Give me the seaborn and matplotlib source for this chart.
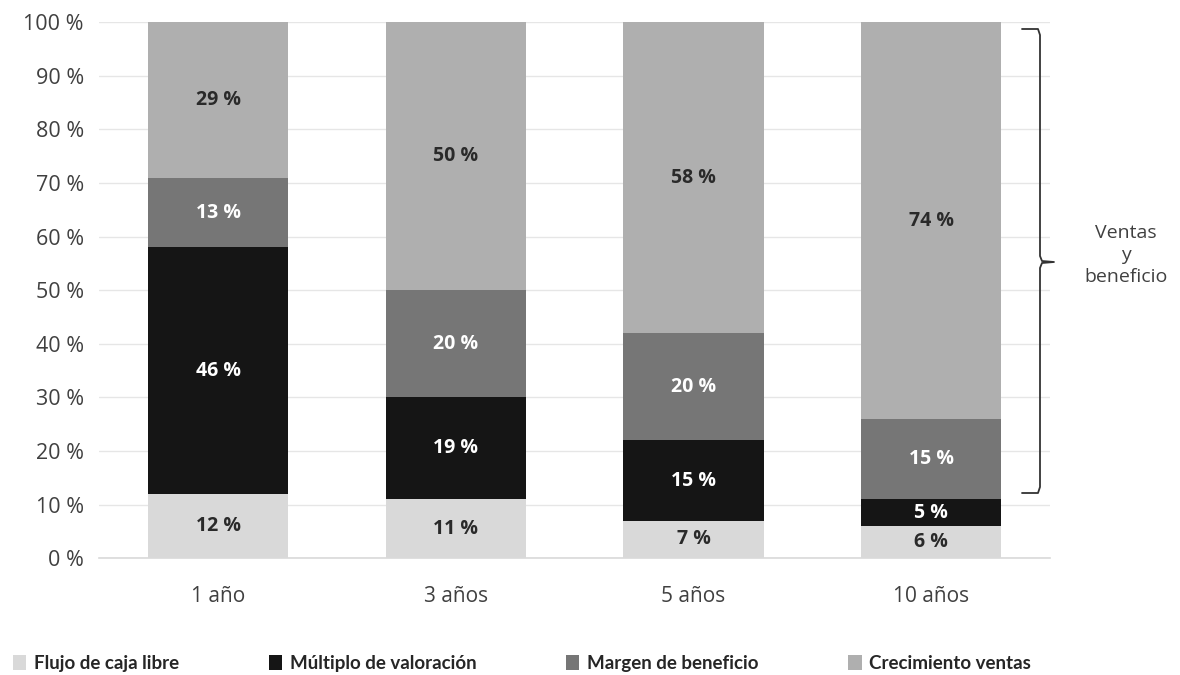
import numpy as np
import pandas as pd
import seaborn as sns
import matplotlib.pyplot as plt
from matplotlib.lines import Line2D
from matplotlib.patches import Patch

categories = ["1 año", "3 años", "5 años", "10 años"]
series_names = ["Flujo de caja libre", "Múltiplo de valoración", "Margen de beneficio", "Crecimiento ventas"]
flujo = [12, 11, 7, 6]
multiplo = [46, 19, 15, 5]
margen = [13, 20, 20, 15]
crecimiento = [29, 50, 58, 74]
yticks = [0, 10, 20, 30, 40, 50, 60, 70, 80, 90, 100]
brace_text = "Ventas\ny\nbeneficio"

colors = ["#d9d9d9", "#151515", "#767676", "#afafaf"]
label_colors = ["#2a2a2a", "white", "white", "#2a2a2a"]
SP = " "

sns.set_theme(style="white")
plt.rcParams['font.family'] = ['Open Sans', 'DejaVu Sans']

fig = plt.figure(figsize=(11.8, 6.75), dpi=100)
ax = fig.add_axes([0.084, 0.173, 0.806, 0.794])

series = [flujo, multiplo, margen, crecimiento]
bottom = np.zeros(len(categories))
for name, vals, col, lc in zip(series_names, series, colors, label_colors):
    vals = np.array(vals, dtype=float)
    df = pd.DataFrame({"cat": categories, "val": vals})
    sns.barplot(data=df, x="cat", y="val", bottom=bottom, color=col, width=0.59,
                ax=ax, saturation=1, edgecolor="none", linewidth=0, zorder=3)
    for i, v in enumerate(vals):
        ax.text(i, bottom[i] + v / 2, f"{int(v)}{SP}%", ha="center", va="center",
                fontsize=14, fontweight="bold", color=lc, zorder=5)
    bottom = bottom + vals

ax.set_ylim(0, 100)
ax.set_xlim(-0.5, len(categories) - 0.5)
ax.set_yticks(yticks)
ax.set_yticklabels([f"{t}{SP}%" for t in yticks], fontsize=15.5, color="#404040")
ax.tick_params(axis="x", labelsize=15, colors="#404040", length=0, pad=20)
ax.tick_params(axis="y", length=0, pad=11)
ax.set_xlabel("")
ax.set_ylabel("")
ax.yaxis.grid(True, color="#e6e6e6", linewidth=1, zorder=0)
for s in ["top", "right", "left"]:
    ax.spines[s].set_visible(False)
ax.spines["bottom"].set_color("#d9d9d9")
ax.spines["bottom"].set_linewidth(1.2)

# Brace (figure pixel coordinates converted to figure fraction)
W, H = 1180, 675
def fx(px):
    return px / W
def fy(py):
    return 1 - py / H
x_stub, x_line, x_tip = 1022, 1040, 1054
y_top, y_bot, y_mid = 29, 493, 262
r = 6
bx = [x_stub, x_line - 2, x_line, x_line, x_line + 2, x_tip, x_line + 2, x_line, x_line, x_line - 2, x_stub]
by = [y_top, y_top, y_top + r, y_mid - r, y_mid - 1, y_mid, y_mid + 1, y_mid + r, y_bot - r, y_bot, y_bot]
fig.add_artist(Line2D([fx(v) for v in bx], [fy(v) for v in by], color="#333333", linewidth=1.3))
fig.text(fx(1126), fy(255), brace_text, ha="center", va="center", fontsize=14,
         color="#404040", linespacing=1.3)

handles = [Patch(facecolor=c, edgecolor="none") for c in colors]
fig.legend(handles, series_names, loc="center left", bbox_to_anchor=(-0.003, 0.017),
           ncol=4, frameon=False, handlelength=0.7, handleheight=0.9, handletextpad=0.4,
           columnspacing=4.8, prop={"family": "Lato", "weight": "bold", "size": 13.5})

fig.savefig("out.png", dpi=100)
